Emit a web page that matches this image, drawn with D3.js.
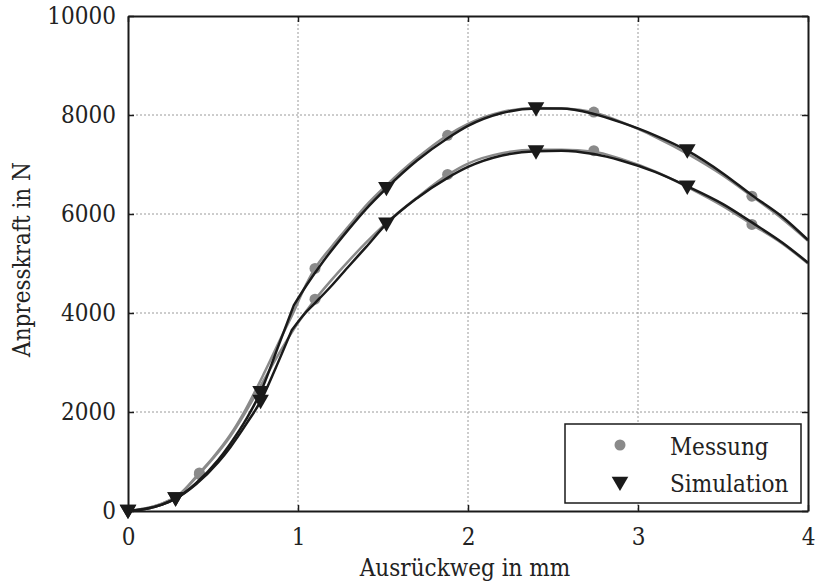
<!DOCTYPE html>
<html>
<head>
<meta charset="utf-8">
<script src="https://cdn.jsdelivr.net/npm/d3@7"></script>
<style>
  html, body { margin: 0; padding: 0; background: #fff; }
  svg { display: block; }
  text { font-family: "DejaVu Serif Condensed", "DejaVu Serif", serif; font-stretch: condensed; fill: #222; }
</style>
</head>
<body>
<svg id="chart" width="818" height="583"></svg>
<script>
// ---- data ----
const xTicks = [0, 1, 2, 3, 4];
const yTicks = [0, 2000, 4000, 6000, 8000, 10000];
const seriesNames = ["Messung", "Simulation"];

// measured curves (gray lines)
const messUpperCurve = [[0,0],[0.1,50],[0.2,150],[0.3,330],[0.42,770],[0.5,1080],[0.6,1530],[0.69,2040],[0.8,2780],[0.9,3500],[0.97,3990],[1.03,4450],[1.1,4900],[1.2,5350],[1.3,5760],[1.4,6170],[1.52,6580],[1.7,7130],[1.88,7590],[2.0,7820],[2.2,8060],[2.4,8140],[2.55,8130],[2.74,8050],[2.9,7860],[3.1,7560],[3.3,7200],[3.5,6780],[3.67,6360],[3.85,5900],[4.0,5460]];
const messLowerCurve = [[0,0],[0.1,50],[0.2,150],[0.3,330],[0.42,750],[0.5,1060],[0.6,1500],[0.69,1990],[0.8,2650],[0.9,3250],[1.0,3800],[1.1,4270],[1.2,4680],[1.3,5060],[1.4,5420],[1.52,5820],[1.7,6330],[1.88,6790],[2.0,7020],[2.2,7230],[2.4,7300],[2.55,7300],[2.74,7260],[2.9,7110],[3.1,6860],[3.3,6530],[3.5,6160],[3.67,5790],[3.85,5400],[4.0,5000]];

// simulated curves (black lines); each has a kink near x = 1
const simUpperCurve = [[0,0],[0.1,40],[0.2,130],[0.28,250],[0.4,560],[0.53,1030],[0.6,1350],[0.7,1880],[0.78,2400],[0.88,3290],[0.976,4160],[1.05,4560],[1.15,5050],[1.3,5700],[1.4,6100],[1.52,6520],[1.7,7080],[1.88,7530],[2.0,7780],[2.2,8040],[2.4,8130],[2.55,8130],[2.74,8020],[2.9,7850],[3.1,7590],[3.29,7280],[3.5,6820],[3.67,6380],[3.85,5940],[4.0,5475]];
const simLowerCurve = [[0,0],[0.1,40],[0.2,130],[0.28,250],[0.4,540],[0.53,980],[0.6,1280],[0.7,1780],[0.78,2220],[0.87,2900],[0.963,3650],[1.03,3950],[1.1,4200],[1.2,4560],[1.3,4950],[1.4,5330],[1.52,5800],[1.7,6320],[1.88,6730],[2.0,6950],[2.2,7180],[2.4,7270],[2.55,7280],[2.74,7210],[2.9,7080],[3.1,6850],[3.29,6560],[3.5,6200],[3.67,5830],[3.85,5420],[4.0,5016]];
const simUpperKinkX = 0.976;
const simLowerKinkX = 0.963;

// markers
const messX = [0.42, 1.1, 1.88, 2.74, 3.67];
const messUpper = [770, 4900, 7590, 8060, 6360];
const messLower = [740, 4280, 6800, 7280, 5790];
const simX = [0, 0.28, 0.78, 1.52, 2.4, 3.29];
const simUpper = [0, 250, 2400, 6520, 8130, 7280];
const simLower = [0, 250, 2220, 5800, 7260, 6550];

// ---- layout ----
const L = 128, R = 808, T = 16, B = 511;
const GRAY = "#8a8a8a", BLACK = "#1a1a1a";

const svg = d3.select("#chart");
const x = d3.scaleLinear().domain([0, 4]).range([L, R]);
const y = d3.scaleLinear().domain([0, 10000]).range([B, T]);

// grid
const grid = svg.append("g");
grid.selectAll("line.gx").data(xTicks.slice(1, -1)).join("line")
  .attr("x1", d => x(d)).attr("x2", d => x(d)).attr("y1", T).attr("y2", B)
  .attr("stroke", "#9a9a9a").attr("stroke-width", 1).attr("stroke-dasharray", "2,2");
grid.selectAll("line.gy").data(yTicks.slice(1, -1)).join("line")
  .attr("x1", L).attr("x2", R).attr("y1", d => y(d)).attr("y2", d => y(d))
  .attr("stroke", "#9a9a9a").attr("stroke-width", 1).attr("stroke-dasharray", "2,2");

// curves
const line = d3.line().x(d => x(d[0])).y(d => y(d[1])).curve(d3.curveMonotoneX);
const plot = svg.append("g");
[messUpperCurve, messLowerCurve].forEach(c => {
  plot.append("path").attr("d", line(c)).attr("fill", "none")
    .attr("stroke", GRAY).attr("stroke-width", 2.5).attr("stroke-linejoin", "round");
});
// measurement dots
[messUpper, messLower].forEach(vals => {
  plot.selectAll(null).data(messX.map((d, i) => [d, vals[i]])).join("circle")
    .attr("cx", d => x(d[0])).attr("cy", d => y(d[1])).attr("r", 5.5).attr("fill", GRAY);
});
// simulation curves: two smooth pieces joined at a sharp kink
[[simUpperCurve, simUpperKinkX], [simLowerCurve, simLowerKinkX]].forEach(([c, k]) => {
  const p1 = c.filter(d => d[0] <= k), p2 = c.filter(d => d[0] >= k);
  plot.append("path").attr("d", line(p1) + line(p2).replace(/^M/, "L")).attr("fill", "none")
    .attr("stroke", BLACK).attr("stroke-width", 2.5).attr("stroke-linejoin", "miter");
});
const tri = d3.symbol().type(d3.symbolTriangle).size(120);
[simUpper, simLower].forEach(vals => {
  plot.selectAll(null).data(simX.map((d, i) => [d, vals[i]])).join("path")
    .attr("d", tri)
    .attr("transform", d => `translate(${x(d[0])},${y(d[1]) - 1.5}) rotate(180)`)
    .attr("fill", BLACK);
});

// axes
const fontSize = "24px";
const ax = svg.append("g");
const axBottom = ax.append("g").attr("transform", `translate(0,${B})`)
  .call(d3.axisBottom(x).tickValues(xTicks).tickFormat(d3.format("d")).tickSizeInner(-6).tickSizeOuter(0).tickPadding(17));
const axLeft = ax.append("g").attr("transform", `translate(${L},0)`)
  .call(d3.axisLeft(y).tickValues(yTicks).tickFormat(d3.format("d")).tickSizeInner(-6).tickSizeOuter(0).tickPadding(12));
const axTop = ax.append("g").attr("transform", `translate(0,${T})`)
  .call(d3.axisTop(x).tickValues(xTicks).tickFormat("").tickSizeInner(-6).tickSizeOuter(0));
const axRight = ax.append("g").attr("transform", `translate(${R},0)`)
  .call(d3.axisRight(y).tickValues(yTicks).tickFormat("").tickSizeInner(-6).tickSizeOuter(0));
[axBottom, axLeft, axTop, axRight].forEach(g => {
  g.select(".domain").attr("stroke", "#1a1a1a").attr("stroke-width", 2);
  g.selectAll(".tick line").attr("stroke", "#1a1a1a").attr("stroke-width", 1.5);
  g.selectAll(".tick text").attr("font-size", fontSize)
    .attr("font-family", "'DejaVu Serif Condensed', 'DejaVu Serif', serif").attr("fill", "#222");
});

// axis titles
svg.append("text").attr("x", (L + R) / 2 - 3).attr("y", 576).attr("text-anchor", "middle")
  .attr("font-size", fontSize).text("Ausrückweg in mm");
svg.append("text").attr("transform", "translate(29.5,259.5) rotate(-90)").attr("text-anchor", "middle")
  .attr("font-size", fontSize).text("Anpresskraft in N");

// legend
const lg = svg.append("g");
lg.append("rect").attr("x", 565).attr("y", 424).attr("width", 236).attr("height", 79)
  .attr("fill", "#fff").attr("stroke", "#1a1a1a").attr("stroke-width", 1.5);
lg.append("circle").attr("cx", 620).attr("cy", 445).attr("r", 5.5).attr("fill", GRAY);
lg.append("path").attr("d", tri).attr("transform", "translate(620,481.5) rotate(180)").attr("fill", BLACK);
lg.selectAll("text.lt").data(seriesNames).join("text")
  .attr("x", 670).attr("y", (d, i) => 454.5 + i * 37.5).attr("font-size", fontSize).text(d => d);
</script>
</body>
</html>
